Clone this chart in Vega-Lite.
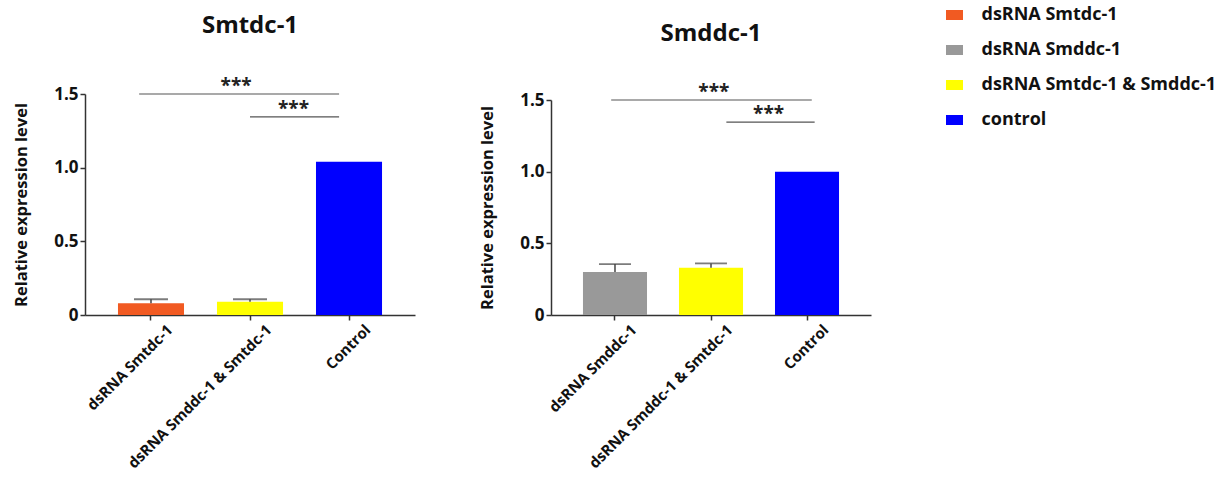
{
  "$schema": "https://vega.github.io/schema/vega-lite/v6.json",
  "background": "white",
  "padding": {"left": 13, "top": 6, "right": 5, "bottom": 5},
  "datasets": {
    "bars1": [
      {"label": "dsRNA Smtdc-1", "group": "dsRNA Smtdc-1", "value": 0.08, "upper": 0.107},
      {"label": "dsRNA Smddc-1 & Smtdc-1", "group": "dsRNA Smtdc-1 & Smddc-1", "value": 0.09, "upper": 0.107},
      {"label": "Control", "group": "control", "value": 1.04}
    ],
    "bars2": [
      {"label": "dsRNA Smddc-1", "group": "dsRNA Smddc-1", "value": 0.30, "upper": 0.355},
      {"label": "dsRNA Smddc-1 & Smtdc-1", "group": "dsRNA Smtdc-1 & Smddc-1", "value": 0.33, "upper": 0.36},
      {"label": "Control", "group": "control", "value": 1.0}
    ],
    "sig1": [
      {"from": -0.12, "to": 1.9, "mid": 0.86, "y": 1.5, "label": "***"},
      {"from": 1.0, "to": 1.9, "mid": 1.44, "y": 1.345, "label": "***"}
    ],
    "sig2": [
      {"from": -0.04, "to": 2.05, "mid": 1.03, "y": 1.5, "label": "***"},
      {"from": 1.16, "to": 2.08, "mid": 1.6, "y": 1.345, "label": "***"}
    ]
  },
  "config": {
    "view": {"stroke": null},
    "font": "Open Sans",
    "axis": {
      "grid": false,
      "domainColor": "#333333",
      "domainWidth": 1.5,
      "tickColor": "#333333",
      "tickWidth": 1.5,
      "tickSize": 5,
      "labelFont": "Open Sans",
      "labelFontWeight": "bold",
      "labelColor": "#111111",
      "titleFont": "Open Sans",
      "titleFontWeight": "bold",
      "titleColor": "#111111"
    },
    "title": {"font": "Open Sans", "fontSize": 24, "fontWeight": "bold", "color": "#111111"},
    "legend": {
      "padding": 0,
      "symbolType": "M-1.7,-1H1.7V1H-1.7Z",
      "symbolSize": 100,
      "symbolStrokeWidth": 0,
      "labelFont": "Open Sans",
      "labelFontSize": 18,
      "labelFontWeight": "bold",
      "labelColor": "#111111",
      "labelOffset": 18,
      "rowPadding": 17,
      "labelLimit": 400
    }
  },
  "spacing": 64,
  "hconcat": [
    {
      "title": {"text": "Smtdc-1", "offset": 39},
      "width": 330,
      "height": 221,
      "layer": [
        {
          "data": {"name": "bars1"},
          "encoding": {
            "x": {
              "field": "label", "type": "nominal", "sort": null,
              "scale": {"paddingInner": 0.333, "paddingOuter": 0.333},
              "axis": {"title": null, "labelAngle": -45, "labelFontSize": 15, "labelPadding": 2, "labelOffset": 14, "labelLimit": 300}
            },
            "y": {
              "field": "value", "type": "quantitative",
              "scale": {"domain": [0, 1.5], "nice": false},
              "axis": {"title": "Relative expression level", "titleFontSize": 16.5, "titlePadding": 24, "labelFontSize": 17, "labelPadding": 2, "values": [0, 0.5, 1, 1.5], "labelExpr": "datum.value == 0 ? '0' : format(datum.value, '.1f')"}
            }
          },
          "layer": [
            {
              "mark": {"type": "bar"},
              "encoding": {
                "color": {
                  "field": "group", "type": "nominal",
                  "scale": {"domain": ["dsRNA Smtdc-1", "dsRNA Smddc-1", "dsRNA Smtdc-1 & Smddc-1", "control"], "range": ["#F15A22", "#999999", "#FFFF00", "#0000FF"]},
                  "legend": {"title": null, "orient": "none", "legendX": 860.5, "legendY": -88}
                }
              }
            },
            {
              "transform": [{"filter": "isValid(datum.upper)"}],
              "mark": {"type": "rule", "color": "#444444", "strokeWidth": 1.5},
              "encoding": {"y2": {"field": "upper"}}
            },
            {
              "transform": [{"filter": "isValid(datum.upper)"}],
              "mark": {"type": "tick", "color": "#444444", "thickness": 1.8, "size": 34},
              "encoding": {"y": {"field": "upper", "type": "quantitative"}}
            }
          ]
        },
        {
          "data": {"name": "sig1"},
          "encoding": {
            "x": {"field": "from", "type": "quantitative", "scale": {"domain": [-0.667, 2.667], "nice": false, "zero": false}, "axis": null},
            "y": {"field": "y", "type": "quantitative"}
          },
          "layer": [
            {"mark": {"type": "rule", "color": "#555555", "strokeWidth": 1.2}, "encoding": {"x2": {"field": "to"}}},
            {"mark": {"type": "text", "fontSize": 19, "fontWeight": "bold", "color": "#222222", "baseline": "middle", "dy": -8}, "encoding": {"x": {"field": "mid", "type": "quantitative"}, "text": {"field": "label"}}}
          ]
        }
      ],
      "resolve": {"scale": {"x": "independent"}}
    },
    {
      "title": {"text": "Smddc-1", "offset": 37},
      "width": 320,
      "height": 221,
      "layer": [
        {
          "data": {"name": "bars2"},
          "encoding": {
            "x": {
              "field": "label", "type": "nominal", "sort": null,
              "scale": {"paddingInner": 0.333, "paddingOuter": 0.333},
              "axis": {"title": null, "labelAngle": -45, "labelFontSize": 15, "labelPadding": 2, "labelOffset": 14, "labelLimit": 300}
            },
            "y": {
              "field": "value", "type": "quantitative",
              "scale": {"domain": [0, 1.5], "nice": false, "range": [221, 6]},
              "axis": {"title": "Relative expression level", "titleFontSize": 16.5, "titlePadding": 24, "labelFontSize": 17, "labelPadding": 2, "values": [0, 0.5, 1, 1.5], "labelExpr": "datum.value == 0 ? '0' : format(datum.value, '.1f')"}
            }
          },
          "layer": [
            {
              "mark": {"type": "bar"},
              "encoding": {
                "color": {
                  "field": "group", "type": "nominal",
                  "scale": {"domain": ["dsRNA Smtdc-1", "dsRNA Smddc-1", "dsRNA Smtdc-1 & Smddc-1", "control"], "range": ["#F15A22", "#999999", "#FFFF00", "#0000FF"]},
                  "legend": {"title": null, "orient": "none", "legendX": 860.5, "legendY": -88}
                }
              }
            },
            {
              "transform": [{"filter": "isValid(datum.upper)"}],
              "mark": {"type": "rule", "color": "#444444", "strokeWidth": 1.5},
              "encoding": {"y2": {"field": "upper"}}
            },
            {
              "transform": [{"filter": "isValid(datum.upper)"}],
              "mark": {"type": "tick", "color": "#444444", "thickness": 1.8, "size": 32},
              "encoding": {"y": {"field": "upper", "type": "quantitative"}}
            }
          ]
        },
        {
          "data": {"name": "sig2"},
          "encoding": {
            "x": {"field": "from", "type": "quantitative", "scale": {"domain": [-0.667, 2.667], "nice": false, "zero": false}, "axis": null},
            "y": {"field": "y", "type": "quantitative"}
          },
          "layer": [
            {"mark": {"type": "rule", "color": "#555555", "strokeWidth": 1.2}, "encoding": {"x2": {"field": "to"}}},
            {"mark": {"type": "text", "fontSize": 19, "fontWeight": "bold", "color": "#222222", "baseline": "middle", "dy": -8}, "encoding": {"x": {"field": "mid", "type": "quantitative"}, "text": {"field": "label"}}}
          ]
        }
      ],
      "resolve": {"scale": {"x": "independent"}}
    }
  ]
}
